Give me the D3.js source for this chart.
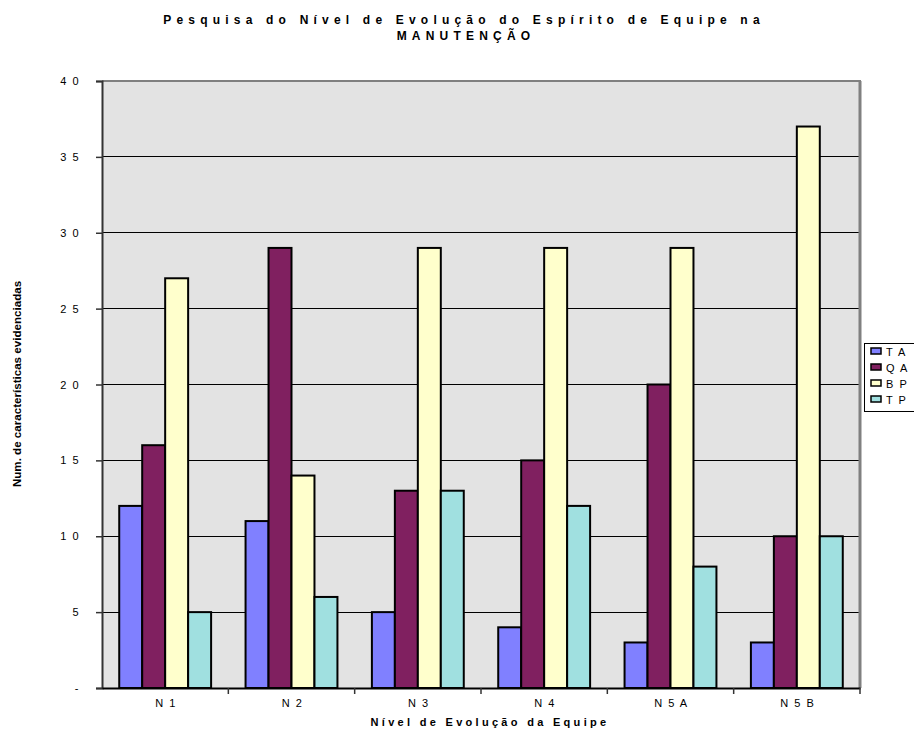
<!DOCTYPE html>
<html>
<head>
<meta charset="utf-8">
<script src="https://cdn.jsdelivr.net/npm/d3@7"></script>
<style>
  html, body { margin: 0; padding: 0; background: #fff; }
  svg { display: block; font-family: "Liberation Sans", Arial, sans-serif; }
</style>
</head>
<body>
<svg id="chart" width="914" height="731"></svg>
<script>
// Levels of team evolution and the four series counted at each
const categories = ["N 1", "N 2", "N 3", "N 4", "N 5 A", "N 5 B"];
const seriesNames = ["T A", "Q A", "B P", "T P"];
const seriesColors = ["#8080FF", "#802060", "#FFFFCC", "#A0E0E0"];
const valuesTA = [12, 11, 5, 4, 3, 3];
const valuesQA = [16, 29, 13, 15, 20, 10];
const valuesBP = [27, 14, 29, 29, 29, 37];
const valuesTP = [5, 6, 13, 12, 8, 10];
const yTicks = [0, 5, 10, 15, 20, 25, 30, 35, 40];
const yTickLabels = ["-", "5", "1 0", "1 5", "2 0", "2 5", "3 0", "3 5", "4 0"];

const seriesValues = [valuesTA, valuesQA, valuesBP, valuesTP];

const svg = d3.select("#chart");
const plot = { left: 102, right: 860, top: 81, bottom: 688 };

const x0 = d3.scaleBand().domain(categories).range([plot.left, plot.right]).paddingInner(0).paddingOuter(0);
const x1 = d3.scaleBand().domain(seriesNames).range([0, x0.bandwidth()]).paddingOuter(0.75).paddingInner(0);
const y = d3.scaleLinear().domain([0, 40]).range([plot.bottom, plot.top]);

// plot area background
svg.append("rect")
  .attr("x", plot.left).attr("y", plot.top)
  .attr("width", plot.right - plot.left).attr("height", plot.bottom - plot.top)
  .attr("fill", "#E3E3E3");

// horizontal gridlines
svg.append("g").selectAll("line")
  .data(yTicks.filter(d => d > 0 && d < 40))
  .join("line")
  .attr("x1", plot.left).attr("x2", plot.right)
  .attr("y1", d => y(d)).attr("y2", d => y(d))
  .attr("stroke", "#000").attr("stroke-width", 1).attr("shape-rendering", "crispEdges");

// plot border (top and right)
svg.append("line").attr("x1", plot.left).attr("x2", plot.right + 1)
  .attr("y1", plot.top).attr("y2", plot.top)
  .attr("stroke", "#808080").attr("stroke-width", 2);
svg.append("line").attr("x1", plot.right).attr("x2", plot.right)
  .attr("y1", plot.top).attr("y2", plot.bottom)
  .attr("stroke", "#808080").attr("stroke-width", 3);

// bars
const groups = svg.append("g").selectAll("g")
  .data(categories)
  .join("g")
  .attr("transform", d => `translate(${x0(d)},0)`);

groups.selectAll("rect")
  .data((c, i) => seriesNames.map((s, k) => ({ s, k, v: seriesValues[k][i] })))
  .join("rect")
  .attr("x", d => x1(d.s))
  .attr("y", d => y(d.v))
  .attr("width", x1.bandwidth())
  .attr("height", d => y(0) - y(d.v))
  .attr("fill", d => seriesColors[d.k])
  .attr("stroke", "#000")
  .attr("stroke-width", 2);

// y axis
const yAxis = d3.axisLeft(y).tickValues(yTicks)
  .tickFormat((d, i) => yTickLabels[i]).tickSize(6).tickPadding(16);
const gy = svg.append("g").attr("transform", `translate(${plot.left},0)`).call(yAxis);
gy.select(".domain").attr("stroke", "#333").attr("stroke-width", 2);
gy.selectAll(".tick line").attr("stroke", "#333").attr("stroke-width", 1.5);
gy.selectAll(".tick text").attr("font-size", 11).attr("fill", "#000")
  .attr("font-family", "Liberation Sans, Arial, sans-serif")
  .style("letter-spacing", "1.5px").style("white-space", "pre");

// x axis
const xAxis = d3.axisBottom(x0).tickSize(0).tickPadding(11);
const gx = svg.append("g").attr("transform", `translate(0,${plot.bottom})`).call(xAxis);
gx.select(".domain").attr("stroke", "#000").attr("stroke-width", 2);
gx.selectAll(".tick text").attr("font-size", 11).attr("fill", "#000")
  .attr("font-family", "Liberation Sans, Arial, sans-serif")
  .attr("dx", "1")
  .style("letter-spacing", "1.5px").style("white-space", "pre");
// category boundary ticks
svg.append("g").selectAll("line")
  .data(categories)
  .join("line")
  .attr("x1", d => x0(d) + x0.bandwidth())
  .attr("x2", d => x0(d) + x0.bandwidth())
  .attr("y1", plot.bottom).attr("y2", plot.bottom + 6)
  .attr("stroke", "#333").attr("stroke-width", 1.5);

// titles
const title = svg.append("text")
  .attr("text-anchor", "middle").attr("font-weight", "bold").attr("font-size", 12)
  .style("letter-spacing", "5.2px");
title.append("tspan").attr("x", 464).attr("y", 24).text("Pesquisa do Nível de Evolução do Espírito de Equipe na");
title.append("tspan").attr("x", 466).attr("y", 40).text("MANUTENÇÃO");

svg.append("text")
  .attr("x", 490).attr("y", 726)
  .attr("text-anchor", "middle").attr("font-weight", "bold").attr("font-size", 11)
  .style("letter-spacing", "3.3px")
  .text("Nível de Evolução da Equipe");

svg.append("text")
  .attr("transform", "translate(21,384) rotate(-90)")
  .attr("text-anchor", "middle").attr("font-weight", "bold").attr("font-size", 11.6)
  .text("Num. de características evidenciadas");

// legend
const legend = svg.append("g");
legend.append("rect")
  .attr("x", 864.5).attr("y", 343.5).attr("width", 60).attr("height", 68)
  .attr("fill", "#fff").attr("stroke", "#000").attr("stroke-width", 1);
const items = legend.selectAll("g.item")
  .data(seriesNames)
  .join("g").attr("class", "item")
  .attr("transform", (d, i) => `translate(871,${352 + i * 16})`);
items.append("rect")
  .attr("x", 0).attr("y", -4).attr("width", 10).attr("height", 6)
  .attr("fill", (d, i) => seriesColors[i]).attr("stroke", "#000").attr("stroke-width", 1.5);
items.append("text")
  .attr("x", 15).attr("y", 3.5).attr("font-size", 11)
  .style("letter-spacing", "1.5px").style("white-space", "pre")
  .text(d => d);
</script>
</body>
</html>
